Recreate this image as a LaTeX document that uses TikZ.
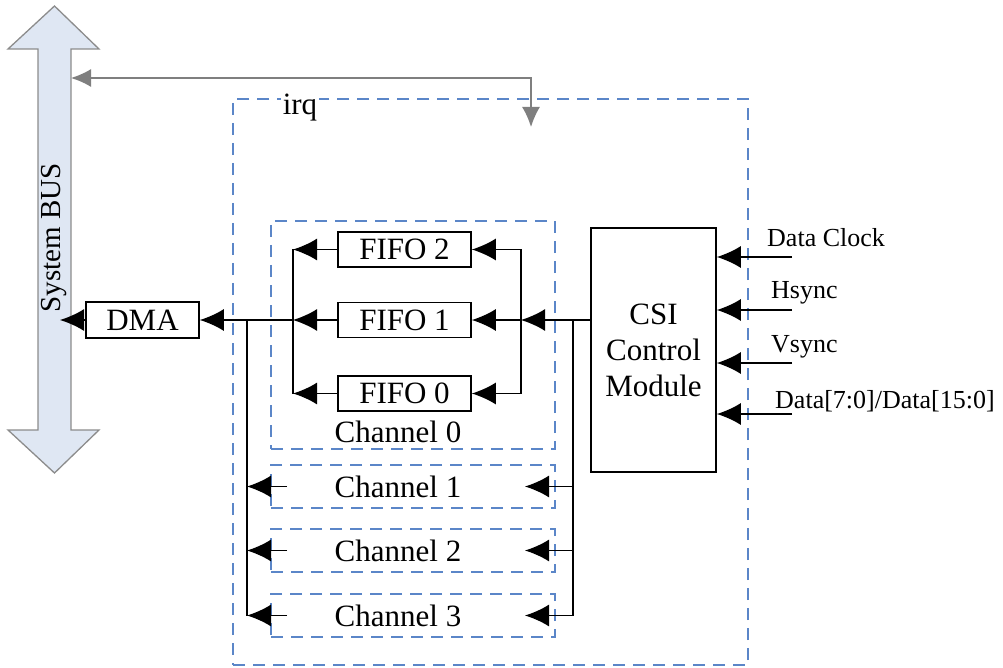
\documentclass[tikz,border=0pt]{standalone}
\usepackage{fontspec}
\setmainfont{Liberation Serif}
\usetikzlibrary{arrows.meta,calc}
\definecolor{dashblue}{HTML}{5B86C8}
\definecolor{busfill}{HTML}{DFE7F3}
\definecolor{busline}{HTML}{8C8C8C}
\definecolor{irqgrey}{HTML}{7F7F7F}
\begin{document}
\begin{tikzpicture}[x=1pt,y=-1pt,
  box/.style={draw=black,line width=1.6pt,fill=white,inner sep=0pt,font=\fontsize{31}{37}\selectfont},
  dbox/.style={draw=dashblue,line width=1.5pt,dash pattern=on 12pt off 8pt,inner sep=0pt},
  lbl/.style={inner sep=0pt,font=\fontsize{31}{37}\selectfont},
  slbl/.style={inner sep=0pt,anchor=west,font=\fontsize{26}{30}\selectfont},
  conn/.style={line width=1.6pt,-{Latex[length=24pt,width=22pt]}},
  wire/.style={line width=1.6pt},
  irqarrow/.style={draw=irqgrey,line width=1.5pt,{Latex[length=20pt,width=18pt]}-{Latex[length=20pt,width=18pt]}}
]
\useasboundingbox (0,0) rectangle (1003,668);
% System bus (double-headed block arrow)
\draw[fill=busfill,draw=busline,line width=1.3pt]
  (54.5,6) -- (99,49) -- (71,49) -- (71,430) -- (99,430) -- (54.5,473)
  -- (8,430) -- (38,430) -- (38,49) -- (8,49) -- cycle;
\node[lbl,rotate=90,font=\fontsize{29}{34}\selectfont] (bustext) at (54,238) {System BUS};
\coordinate (busirq) at (71,78);
\coordinate (busdma) at (60,320);
% outer dashed box
\node[dbox,minimum width=515pt,minimum height=566pt] (outer) at (490.5,382) {};
\node[lbl,fill=white,inner xsep=2pt] (irq) at (300,108) {irq};
% irq connector
\coordinate (irqcorner) at (531,78);
\coordinate (irqend) at (531,127);
\draw[irqarrow] (busirq) -- (irqcorner) -- (irqend);
% channel boxes
\node[dbox,minimum width=284pt,minimum height=228pt] (ch0) at (413,335) {};
\node[lbl] (ch0t) at (398,432) {Channel 0};
\node[dbox,minimum width=284pt,minimum height=43pt] (ch1) at (413,486.5) {};
\node[lbl] (ch1t) at (398,486.5) {Channel 1};
\node[dbox,minimum width=284pt,minimum height=43pt] (ch2) at (413,550.5) {};
\node[lbl] (ch2t) at (398,550.5) {Channel 2};
\node[dbox,minimum width=284pt,minimum height=43pt] (ch3) at (413,615.5) {};
\node[lbl] (ch3t) at (398,615.5) {Channel 3};
% FIFOs
\node[box,minimum width=133pt,minimum height=35pt] (f2) at (404.5,249.5) {FIFO 2};
\node[box,minimum width=133pt,minimum height=35pt] (f1) at (404.5,320) {FIFO 1};
\node[box,minimum width=133pt,minimum height=35pt] (f0) at (404.5,393.5) {FIFO 0};
% DMA
\node[box,minimum width=113pt,minimum height=36pt] (dma) at (142.5,320) {DMA};
% CSI
\node[box,minimum width=125pt,minimum height=244pt,align=center,
      font=\fontsize{31}{36}\selectfont] (csi) at (653.5,350) {CSI\\Control\\Module};
% FIFO fan-in / fan-out
\coordinate (fl2) at (293,249.5);
\coordinate (fl1) at (293,320);
\coordinate (fl0) at (293,393.5);
\coordinate (fr2) at (521,249.5);
\coordinate (fr1) at (521,320);
\coordinate (fr0) at (521,393.5);
\draw[wire] (fl2) -- (fl0);
\draw[wire] (fr2) -- (fr0);
\draw[conn] (f2.west) -- (fl2);
\draw[conn] (f1.west) -- (fl1);
\draw[conn] (f0.west) -- (fl0);
\draw[conn] (fr2) -- (f2.east);
\draw[conn] (fr1) -- (f1.east);
\draw[conn] (fr0) -- (f0.east);
\draw[conn] (csi.west |- fr1) -- (fr1);
\draw[conn] (fl1) -- (dma.east);
\draw[conn] (dma.west) -- (busdma);
% channel buses
\coordinate (lb0) at (247,320);
\coordinate (lb3) at (247,615.5);
\coordinate (rb0) at (573,320);
\coordinate (rb3) at (573,615.5);
\draw[wire] (lb0) -- (lb3);
\draw[wire] (rb0) -- (rb3);
\foreach \c in {ch1,ch2,ch3}{
  \draw[conn] (287,0 |- \c) -- (247,0 |- \c);
  \draw[conn] (573,0 |- \c) -- (525,0 |- \c);
}
% inputs
\coordinate (in1) at (792,257);
\coordinate (in2) at (792,310);
\coordinate (in3) at (792,363);
\coordinate (in4) at (792,414);
\draw[conn] (in1) -- (csi.east |- in1);
\draw[conn] (in2) -- (csi.east |- in2);
\draw[conn] (in3) -- (csi.east |- in3);
\draw[conn] (in4) -- (csi.east |- in4);
\node[slbl] (l1) at (767,238) {Data Clock};
\node[slbl] (l2) at (771,293) {Hsync};
\node[slbl] (l3) at (771,347) {Vsync};
\node[slbl] (l4) at (775,401) {Data[7:0]/Data[15:0]};
\end{tikzpicture}
\end{document}
